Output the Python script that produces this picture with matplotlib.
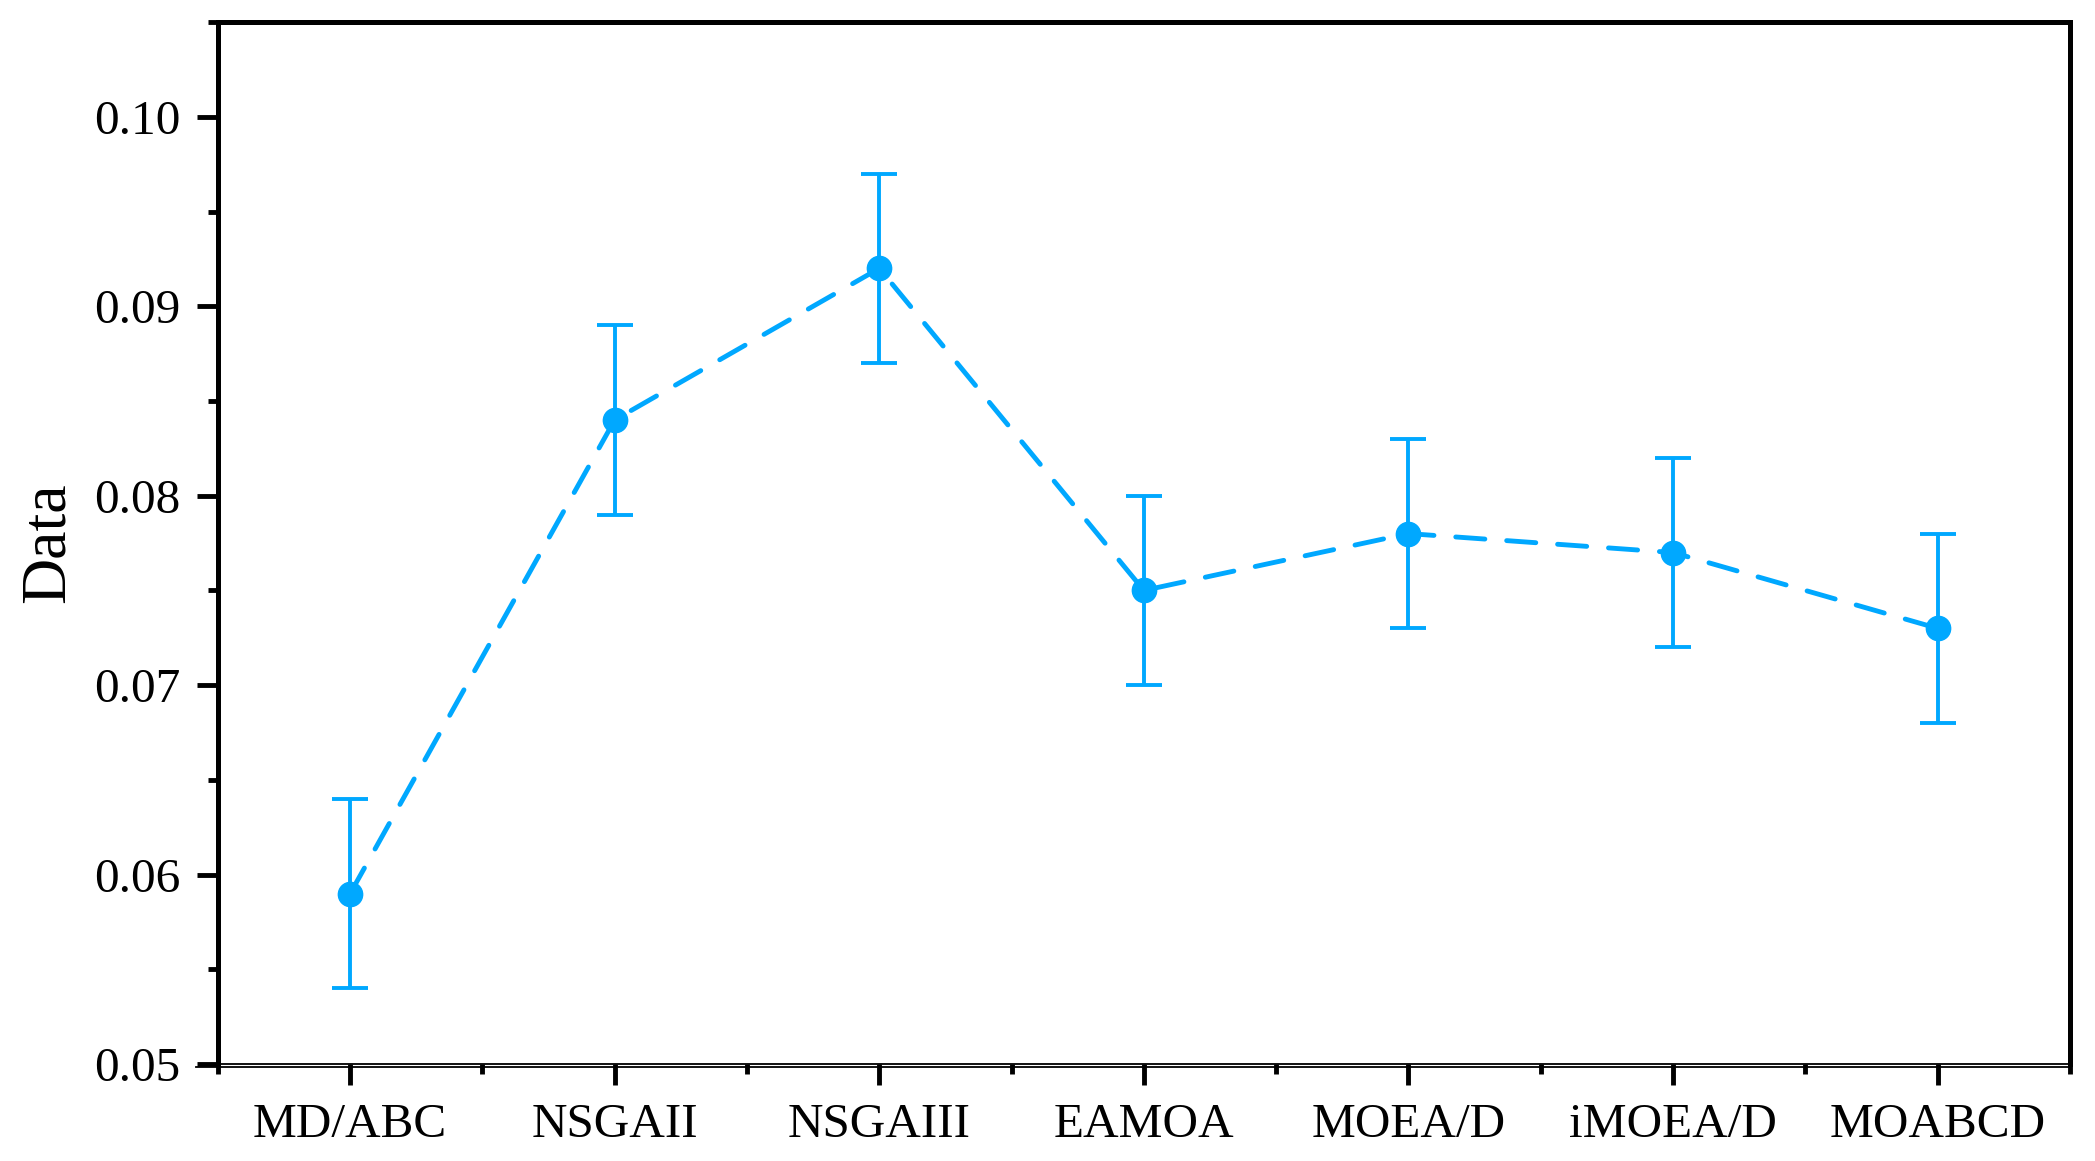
import matplotlib.pyplot as plt
import matplotlib.transforms as mtransforms
from matplotlib.ticker import MultipleLocator
import numpy as np

algorithms = ["MD/ABC", "NSGAII", "NSGAIII", "EAMOA", "MOEA/D", "iMOEA/D", "MOABCD"]
values = [0.059, 0.084, 0.092, 0.075, 0.078, 0.077, 0.073]
errors = [0.005, 0.005, 0.005, 0.005, 0.005, 0.005, 0.005]

plt.rcParams['font.family'] = ['Liberation Serif', 'DejaVu Serif']

color = '#00A8FF'
x = np.arange(len(algorithms))

fig = plt.figure(figsize=(20.95, 11.61), dpi=100)
ax = fig.add_axes([0.104, 0.0835, 0.884, 0.8975])

ax.errorbar(x, values, yerr=errors, color=color, ecolor=color, fmt='o',
            markersize=17.5, elinewidth=2.8, capsize=13, capthick=2.8, zorder=3)
ax.plot(x, values, color=color, linewidth=3.5, linestyle=(0, (6, 4.5)),
        dash_capstyle='round', zorder=2)

ax.set_xlim(-0.5, 6.5)
ax.set_ylim(0.05, 0.105)
ax.set_xticks(x)
ax.set_xticklabels(algorithms)
ax.xaxis.set_minor_locator(MultipleLocator(1, offset=0.5))
ax.set_yticks([0.05, 0.06, 0.07, 0.08, 0.09, 0.10])
ax.set_yticklabels(["0.05", "0.06", "0.07", "0.08", "0.09", "0.10"])
ax.yaxis.set_minor_locator(MultipleLocator(0.005))

ax.tick_params(axis='both', which='major', direction='out', length=15,
               width=3.5, labelsize=35.5, pad=12)
ax.tick_params(axis='both', which='minor', direction='out', length=7, width=3.5)
ax.tick_params(axis='x', which='major', pad=13)

for side in ['left', 'top', 'right']:
    ax.spines[side].set_linewidth(3.6)
ax.spines['bottom'].set_linewidth(1.3)

# Origin-style double axis line at the bottom
off = mtransforms.offset_copy(ax.transAxes, fig=fig, x=0, y=-3, units='dots')
ax.plot([-0.012, 1.0], [0, 0], transform=off, color='black', linewidth=1.3,
        clip_on=False)

ax.set_ylabel("Data", fontsize=46, labelpad=12)

fig.savefig("out.png", dpi=100)
